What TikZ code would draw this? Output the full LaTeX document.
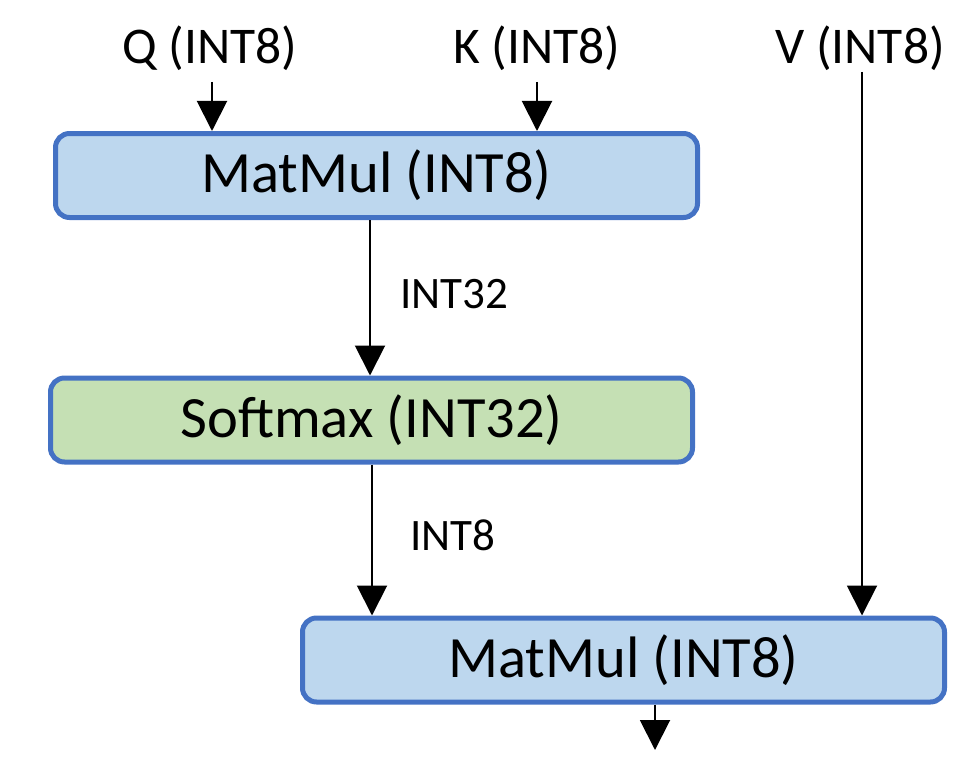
\documentclass[tikz,border=0pt]{standalone}
\usepackage{fontspec}
\setmainfont{Carlito}
\usetikzlibrary{arrows.meta}
\definecolor{bfill}{HTML}{BDD7EE}
\definecolor{bdraw}{HTML}{4472C4}
\definecolor{gfill}{HTML}{C5E0B4}
\begin{document}
\begin{tikzpicture}[x=1pt,y=-1pt,
  box/.style={draw=bdraw, line width=5pt, rounded corners=14pt, minimum width=642pt, minimum height=84pt, font=\fontsize{58.5}{62}\selectfont, inner sep=0pt},
  lab/.style={font=\fontsize{51.5}{55}\selectfont, inner sep=2pt},
  elab/.style={font=\fontsize{45}{50}\selectfont, inner sep=2pt},
  arr/.style={line width=2pt, -{Triangle[width=30pt,length=30pt]}}]
\useasboundingbox (0,0) rectangle (962,760);
\node[box, fill=bfill] (m1) at (376.5,175.5) {MatMul (INT8)};
\node[box, fill=gfill] (sm) at (371.5,420) {Softmax (INT32)};
\node[box, fill=bfill] (m2) at (623.5,660) {MatMul (INT8)};
\node[lab] (q) at (210,48) {Q (INT8)};
\node[lab] (k) at (537,48) {K (INT8)};
\node[lab] (v) at (860,48) {V (INT8)};
\node[elab] (l32) at (454,294) {INT32};
\node[elab] (l8) at (453,535) {INT8};
\coordinate (qs) at (212,82);
\coordinate (ks) at (537,82);
\coordinate (vs) at (862,72);
\coordinate (out) at (655,750);
\draw[arr] (qs) -- (qs |- m1.north);
\draw[arr] (ks) -- (ks |- m1.north);
\draw[arr] (vs) -- (vs |- m2.north);
\draw[arr] ([xshift=-6.5pt]m1.south) -- ([xshift=-1.5pt]sm.north);
\draw[arr] ([xshift=0.5pt]sm.south) -- ([xshift=-251.5pt]m2.north);
\draw[arr] (out |- m2.south) -- (out);
\end{tikzpicture}
\end{document}
